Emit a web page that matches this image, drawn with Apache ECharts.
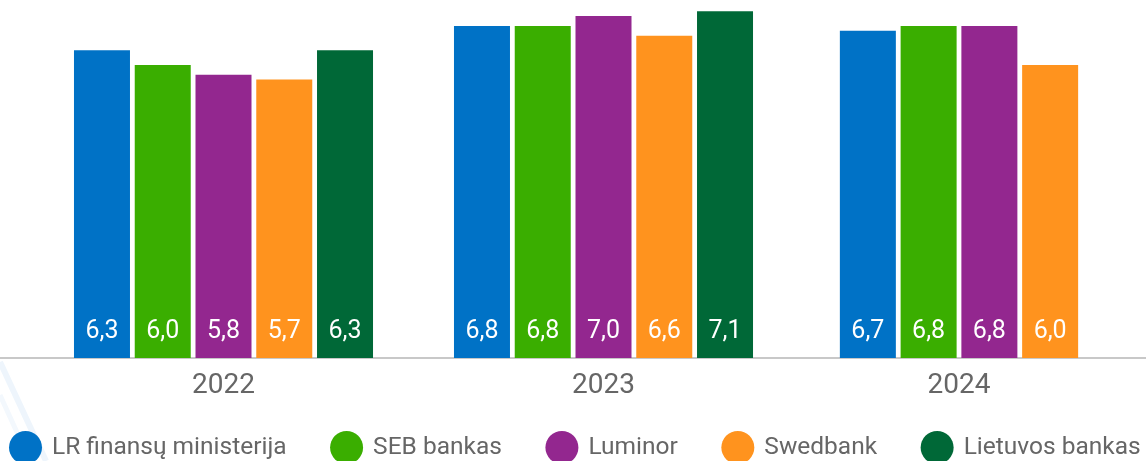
<!DOCTYPE html>
<html>
<head>
<meta charset="utf-8">
<script src="https://cdn.jsdelivr.net/npm/echarts@6/dist/echarts.min.js"></script>
<style>
  html, body { margin: 0; padding: 0; background: #fff; }
  #chart { width: 1146px; height: 461px; }
</style>
</head>
<body>
<div id="chart"></div>
<script>
// metai
const years = ["2022", "2023", "2024"];
// prognozės pagal instituciją
const lrFinMin = [6.3, 6.8, 6.7];
const sebBankas = [6.0, 6.8, 6.8];
const luminor = [5.8, 7.0, 6.8];
const swedbank = [5.7, 6.6, 6.0];
const lietuvosBankas = [6.3, 7.1, null];

const names = ["LR finansų ministerija", "SEB bankas", "Luminor", "Swedbank", "Lietuvos bankas"];
const values = [lrFinMin, sebBankas, luminor, swedbank, lietuvosBankas];
const colorList = ["#0072c6", "#3aae00", "#93278f", "#ff931e", "#006837"];

// kiekvieniems metams atskiras grid, kad 2024 stulpeliai būtų centruoti
const gridBoxes = [
  { left: 0, width: 447 },
  { left: 380, width: 447 },
  { left: 772, width: 374 },
];

let grids = [];
let xAxes = [];
let yAxes = [];
let seriesData = [];
for (let i = 0; i < years.length; i++) {
  grids.push({ left: gridBoxes[i].left, width: gridBoxes[i].width, top: 0, bottom: 103 });
  xAxes.push({
    type: "category",
    gridIndex: i,
    data: [years[i]],
    axisLine: { lineStyle: { color: "#c8c8c8", width: 2 } },
    axisTick: { show: false },
    axisLabel: { color: "#666", fontSize: 28, fontFamily: "Roboto", margin: 14 },
  });
  yAxes.push({ type: "value", gridIndex: i, min: 0, max: 7.33, show: false });
  for (let s = 0; s < names.length; s++) {
    if (values[s][i] === null) continue;
    seriesData.push({
      name: names[s],
      type: "bar",
      xAxisIndex: i,
      yAxisIndex: i,
      barWidth: 56,
      barGap: "8.5%",
      itemStyle: { color: colorList[s] },
      label: {
        show: true,
        position: "insideBottom",
        distance: 14,
        color: "#fff",
        fontSize: 25,
        fontFamily: "Roboto",
        formatter: (p) => p.value.toFixed(1).replace(".", ","),
      },
      data: [values[s][i]],
    });
  }
}

let myChart = echarts.init(document.getElementById("chart"));
myChart.setOption({
  animation: false,
  color: colorList,
  graphic: [
    { type: "line", silent: true, z: -10, shape: { x1: 0, y1: 362, x2: 46, y2: 461 }, style: { stroke: "#eef5fc", lineWidth: 6 } },
    { type: "line", silent: true, z: -10, shape: { x1: 0, y1: 395, x2: 30, y2: 461 }, style: { stroke: "#f3f8fd", lineWidth: 5 } },
  ],
  legend: {
    data: names,
    left: 9,
    top: 431,
    padding: 0,
    icon: "circle",
    itemWidth: 33,
    itemHeight: 33,
    itemGap: 43.5,
    textStyle: { color: "#666", fontSize: 24.5, fontFamily: "Roboto", padding: [0, 0, 0, 5] },
  },
  grid: grids,
  xAxis: xAxes,
  yAxis: yAxes,
  series: seriesData,
});
</script>
</body>
</html>
